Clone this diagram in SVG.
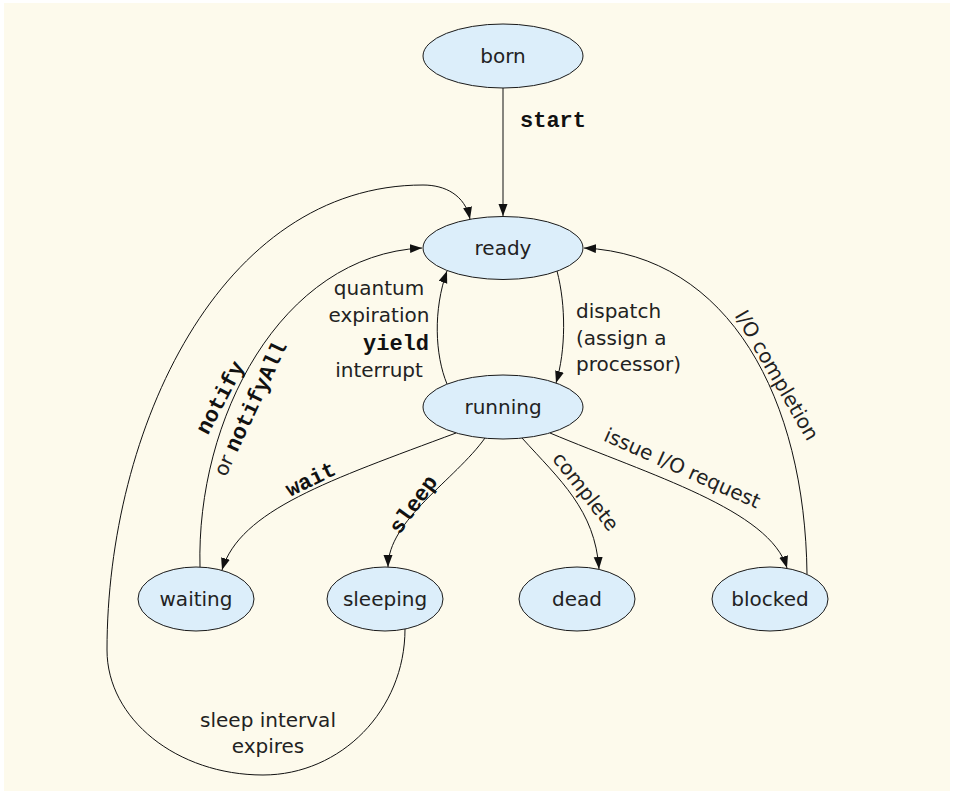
<svg xmlns="http://www.w3.org/2000/svg" width="954" height="794" viewBox="0 0 954 794">
<style>
.node ellipse{fill:#DCEEFA;stroke:#1a1a1a;stroke-width:1}
.lbl{font-family:"DejaVu Sans","Liberation Sans",sans-serif;font-size:20px;fill:#222}
.nt{font-family:"DejaVu Sans","Liberation Sans",sans-serif;font-size:20px;fill:#222;text-anchor:middle}
.code{font-family:"Liberation Mono","DejaVu Sans Mono",monospace;font-weight:bold;font-size:22px;fill:#111}
.edges path{fill:none;stroke:#111;stroke-width:1;marker-end:url(#arr)}
</style>
<defs>
<marker id="arr" markerUnits="userSpaceOnUse" markerWidth="13" markerHeight="10" refX="12" refY="4.5" orient="auto">
<path d="M0,0 L12,4.5 L0,9 z" fill="#111"/>
</marker>
</defs>
<rect x="4" y="3" width="946" height="788" fill="#FDFAEC"/>
<g class="edges" id="connectors">
<path d="M503,88 L503,216"/>
<path d="M557,271 C566,305 566,350 556,383"/>
<path d="M447,384 C435,355 433,310 447,271"/>
<path d="M200,567 C196,420 280,255 422,248"/>
<path d="M405,629 C405,710 341,775 263,775 C177,775 107,719 107,650 C107,430 220,185 423,185 C445,185 465,195 470,219"/>
<path d="M807,574 C805,400 730,255 584,248"/>
<path d="M550,433 C650,475 770,510 787,568"/>
<path d="M522,438 C560,480 595,510 599,569"/>
<path d="M485,438 C455,480 388,520 388,567"/>
<path d="M456,433 C330,480 240,510 222,570"/>
</g>
<g id="born" class="node"><ellipse cx="503" cy="56" rx="80" ry="32"/><text class="nt" x="503" y="63">born</text></g>
<g id="ready" class="node"><ellipse cx="503" cy="248" rx="80" ry="31.5"/><text class="nt" x="503" y="255">ready</text></g>
<g id="running" class="node"><ellipse cx="503" cy="407" rx="80" ry="32"/><text class="nt" x="503" y="414">running</text></g>
<g id="waiting" class="node"><ellipse cx="196" cy="599" rx="58" ry="32"/><text class="nt" x="196" y="606">waiting</text></g>
<g id="sleeping" class="node"><ellipse cx="385" cy="599" rx="58" ry="32"/><text class="nt" x="385" y="606">sleeping</text></g>
<g id="dead" class="node"><ellipse cx="577" cy="599" rx="58" ry="32"/><text class="nt" x="577" y="606">dead</text></g>
<g id="blocked" class="node"><ellipse cx="770" cy="599" rx="58" ry="32"/><text class="nt" x="770" y="606">blocked</text></g>
<g id="labels">
<text class="code" x="520" y="127">start</text>
<text class="lbl" text-anchor="middle" x="379" y="295">quantum</text>
<text class="lbl" text-anchor="middle" x="379" y="322">expiration</text>
<text class="code" text-anchor="middle" x="396" y="350">yield</text>
<text class="lbl" text-anchor="middle" x="379" y="377">interrupt</text>
<text class="lbl" x="576" y="318">dispatch</text>
<text class="lbl" x="576" y="345">(assign a</text>
<text class="lbl" x="576" y="371">processor)</text>
<text class="lbl" text-anchor="middle" x="268" y="727">sleep interval</text>
<text class="lbl" text-anchor="middle" x="268" y="753">expires</text>
<text class="lbl" text-anchor="middle" transform="translate(777,375) rotate(60)" x="0" y="7">I/O completion</text>
<text class="lbl" text-anchor="middle" transform="translate(682,469) rotate(24)" x="0" y="6">issue I/O request</text>
<text class="lbl" text-anchor="middle" transform="translate(585,492) rotate(52)" x="0" y="6">complete</text>
<text class="code" text-anchor="middle" transform="translate(414,505) rotate(-54)" x="0" y="6">sleep</text>
<text class="code" text-anchor="middle" transform="translate(311,480) rotate(-26)" x="0" y="6">wait</text>
<text class="code" text-anchor="middle" transform="translate(221,398) rotate(-62)" x="0" y="6">notify</text>
<text text-anchor="middle" transform="translate(251,409) rotate(-65)" x="0" y="6"><tspan class="lbl">or </tspan><tspan class="code">notifyAll</tspan></text>
</g>
</svg>
